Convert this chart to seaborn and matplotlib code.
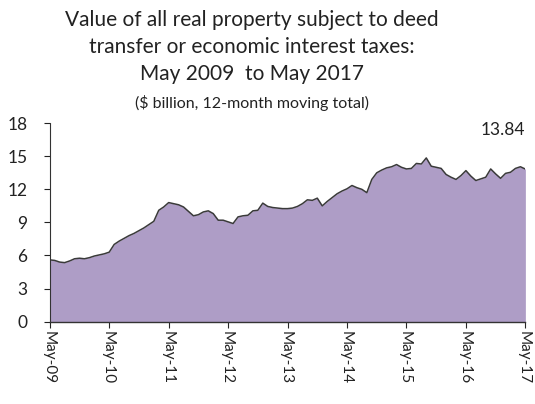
import matplotlib
matplotlib.use("Agg")
import matplotlib.pyplot as plt
import seaborn as sns
import numpy as np
import pandas as pd

# 12-month moving total of real property value, $ billion, monthly May 2009 - May 2017
values = [
    5.6, 5.55, 5.4, 5.35, 5.5, 5.7, 5.75, 5.7, 5.8, 5.95, 6.05, 6.15,
    6.3, 7.0, 7.3, 7.55, 7.8, 8.0, 8.25, 8.5, 8.8, 9.1, 10.1, 10.4,
    10.8, 10.7, 10.6, 10.4, 10.0, 9.6, 9.7, 9.95, 10.05, 9.8, 9.2, 9.2,
    9.05, 8.9, 9.5, 9.6, 9.65, 10.05, 10.1, 10.75, 10.45, 10.35, 10.3, 10.25,
    10.25, 10.3, 10.45, 10.7, 11.05, 11.0, 11.2, 10.5, 10.9, 11.25, 11.6, 11.85,
    12.05, 12.35, 12.15, 12.0, 11.7, 12.9, 13.5, 13.75, 13.95, 14.05, 14.25, 14.0,
    13.85, 13.9, 14.35, 14.3, 14.85, 14.1, 14.0, 13.9, 13.35, 13.1, 12.9, 13.25,
    13.7, 13.2, 12.8, 12.95, 13.1, 13.85, 13.4, 13.0, 13.45, 13.55, 13.9, 14.05,
    13.84,
]
tick_labels = ["May-09", "May-10", "May-11", "May-12", "May-13",
               "May-14", "May-15", "May-16", "May-17"]
y_ticks = [0, 3, 6, 9, 12, 15, 18]
last_label = "13.84"

df = pd.DataFrame({"month": np.arange(len(values)), "value": values})

sns.set_style("white")
plt.rcParams["font.family"] = ["Lato", "DejaVu Sans"]

fig = plt.figure(figsize=(5.35, 4.04), dpi=100)
ax = fig.add_axes([0.093, 0.204, 0.889, 0.491])

ax.fill_between(df["month"], df["value"], 0, color="#AE9DC6", linewidth=0)
sns.lineplot(data=df, x="month", y="value", ax=ax, color="#3a3a3a", linewidth=1.1)

ax.set_xlim(0, len(values) - 1)
ax.set_ylim(0, 18)
ax.set_yticks(y_ticks)
ax.set_xticks(np.arange(0, len(values), 12))
ax.set_xticklabels(tick_labels, rotation=-90, fontsize=11, color="#222222")
ax.tick_params(axis="y", labelsize=12.5, colors="#222222", length=4, width=0.8,
               direction="out", left=True, pad=12)
ax.tick_params(axis="x", length=4, width=0.8, direction="out", bottom=True, pad=3)
for lbl in ax.get_xticklabels():
    lbl.set_rotation_mode("anchor")
    lbl.set_ha("left")
    lbl.set_va("center_baseline")
ax.set_xlabel("")
ax.set_ylabel("")

for side in ["top", "right"]:
    ax.spines[side].set_visible(False)
ax.spines["left"].set_linestyle((0, (1.5, 1)))
ax.spines["left"].set_color("#333333")
ax.spines["bottom"].set_color("#333333")
ax.spines["bottom"].set_linewidth(1.0)

ax.text(len(values) - 1, values[-1] + 3.5, last_label, ha="right", va="center",
        fontsize=12.5, color="#222222")

cx = 0.471
fig.text(cx, 1 - 20 / 404, "Value of all real property subject to deed",
         ha="center", va="center", fontsize=15, color="#222222")
fig.text(cx, 1 - 47 / 404, "transfer or economic interest taxes:",
         ha="center", va="center", fontsize=15, color="#222222")
fig.text(cx, 1 - 74 / 404, "May 2009  to May 2017",
         ha="center", va="center", fontsize=15, color="#222222")
fig.text(cx, 1 - 103 / 404, "($ billion, 12-month moving total)",
         ha="center", va="center", fontsize=11.5, color="#222222")

fig.savefig("out.png", dpi=100)
